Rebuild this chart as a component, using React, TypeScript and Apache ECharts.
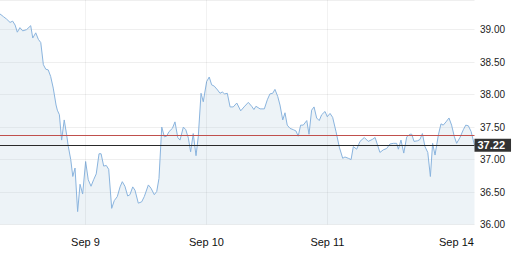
import React, { useEffect, useRef } from "react";
import * as echarts from "echarts";

// time in trading hours since Sep 8 open (6.5 h per session)
const times = [
  1.91, 2.09, 2.27, 2.45, 2.59, 2.72, 2.84, 2.98, 3.13, 3.34, 3.56, 3.67, 3.83, 3.97, 4.1, 4.24, 4.37, 4.5, 4.63, 4.77,
  4.92, 4.99, 5.1, 5.22, 5.36, 5.49, 5.58, 5.71, 5.82, 5.94, 6.08, 6.21, 6.35, 6.51, 6.65, 6.8, 6.94, 7.08, 7.23, 7.34,
  7.48, 7.62, 7.75, 7.91, 8.05, 8.21, 8.36, 8.48, 8.62, 8.77, 8.89, 9.04, 9.16, 9.34, 9.52, 9.66, 9.88, 10.02, 10.2, 10.33,
  10.45, 10.6, 10.74, 10.86, 10.99, 11.17, 11.31, 11.46, 11.58, 11.76, 11.89, 12.03, 12.15, 12.29, 12.44, 12.56, 12.71, 12.83, 13.01, 13.15,
  13.28, 13.42, 13.6, 13.73, 13.85, 13.98, 14.12, 14.27, 14.44, 14.63, 14.84, 15.02, 15.25, 15.43, 15.55, 15.66, 15.88, 16.11, 16.27, 16.41,
  16.56, 16.68, 16.83, 16.95, 17.1, 17.22, 17.34, 17.49, 17.67, 17.81, 17.93, 18.06, 18.2, 18.39, 18.51, 18.65, 18.78, 18.92, 19.06, 19.19,
  19.37, 19.49, 19.64, 19.78, 19.96, 20.14, 20.32, 20.44, 20.62, 20.77, 20.89, 21.07, 21.25, 21.48, 21.69, 21.91, 22.06, 22.32, 22.5, 22.68,
  22.86, 23.04, 23.22, 23.31, 23.45, 23.6, 23.76, 23.94, 24.03, 24.15, 24.35, 24.47, 24.6, 24.74, 24.89, 25.03, 25.15, 25.28, 25.46, 25.6,
  25.72, 25.87, 26.03, 26.17, 26.31, 26.44, 26.62, 26.8, 26.93, 27.07, 27.22, 27.4,
];

const prices = [
  39.24, 39.2, 39.16, 39.11, 39.13, 39.07, 38.96, 39.03, 38.98, 39.0, 39.06, 38.87, 38.95, 38.85, 38.8, 38.46, 38.39, 38.38, 38.28, 38.1,
  37.84, 37.76, 37.69, 37.3, 37.61, 37.38, 37.2, 37.0, 36.74, 36.87, 36.2, 36.62, 36.47, 36.97, 36.69, 36.59, 36.69, 36.78, 37.09, 37.09,
  36.9, 36.91, 36.85, 36.25, 36.37, 36.43, 36.58, 36.66, 36.59, 36.44, 36.46, 36.58, 36.53, 36.33, 36.35, 36.43, 36.61, 36.56, 36.46, 36.51,
  36.71, 37.5, 37.35, 37.36, 37.43, 37.48, 37.58, 37.34, 37.3, 37.5, 37.46, 37.33, 37.12, 37.4, 37.06, 37.35, 38.02, 37.89, 38.2, 38.27,
  38.15, 38.13, 38.07, 38.02, 38.04, 38.01, 38.02, 37.81, 37.81, 37.87, 37.75, 37.81, 37.88, 37.82, 37.77, 37.82, 37.78, 37.78, 37.92, 38.01,
  38.02, 38.08, 37.97, 37.84, 37.61, 37.72, 37.53, 37.48, 37.46, 37.44, 37.36, 37.53, 37.53, 37.6, 37.39, 37.76, 37.81, 37.64, 37.6, 37.69,
  37.74, 37.66, 37.71, 37.65, 37.43, 37.19, 37.02, 37.04, 37.02, 37.0, 37.2, 37.16, 37.28, 37.34, 37.28, 37.31, 37.34, 37.11, 37.15, 37.17,
  37.24, 37.25, 37.25, 37.16, 37.3, 37.1, 37.35, 37.39, 37.39, 37.28, 37.29, 37.31, 37.4, 37.2, 37.11, 36.74, 37.25, 37.07, 37.38, 37.55,
  37.53, 37.58, 37.64, 37.53, 37.36, 37.25, 37.34, 37.46, 37.53, 37.52, 37.43, 37.22,
];

const dayStarts = [6.5, 13, 19.5, 26];
const dayLabels = ["Sep 9", "Sep 10", "Sep 11", "Sep 14"];
const yTicks = [36, 36.5, 37, 37.5, 38, 38.5, 39];
const prevClose = 37.38;
const lastPrice = 37.22;

const FONT = "'Liberation Sans', Arial, Helvetica, sans-serif";

export default function App() {
  const ref = useRef<HTMLDivElement>(null);

  useEffect(() => {
    if (!ref.current) return;
    const chart = echarts.init(ref.current, undefined, { renderer: "svg" });
    const data = times.map((t, i) => [t, prices[i]]);
    chart.setOption({
      animation: false,
      grid: { left: 0, right: 37.5, top: 0, bottom: 30.4, containLabel: false },
      xAxis: {
        type: "value",
        min: times[0],
        max: times[times.length - 1],
        axisLine: { show: false },
        axisTick: { show: false },
        splitLine: { show: false },
        axisLabel: {
          customValues: dayStarts,
          margin: 12,
          fontSize: 11,
          color: "#111",
          fontFamily: FONT,
          formatter: (v: number) => {
            const i = dayStarts.findIndex((d) => Math.abs(d - v) < 1e-6);
            if (i < 0) return "";
            return i === dayStarts.length - 1 ? "{r|" + dayLabels[i] + "}" : dayLabels[i];
          },
          rich: {
            r: { padding: [0, 0, 0, 16], fontSize: 11, color: "#111", fontFamily: FONT },
          },
        },
      },
      yAxis: {
        type: "value",
        position: "right",
        min: 36,
        max: 39.455,
        interval: 0.5,
        axisLine: { show: false },
        axisTick: { show: false },
        axisLabel: {
          margin: 5.5,
          fontSize: 10,
          color: "#222",
          fontFamily: FONT,
          formatter: (v: number) =>
            yTicks.some((t) => Math.abs(t - v) < 1e-6) ? v.toFixed(2) : "",
        },
        splitLine: { show: true, lineStyle: { color: "#efefef", width: 1 } },
      },
      series: [
        {
          type: "line",
          data,
          showSymbol: false,
          symbol: "none",
          lineStyle: { color: "#8ab4de", width: 1 },
          areaStyle: { color: "rgba(181,204,221,0.35)", origin: "start" },
          markLine: {
            silent: true,
            symbol: "none",
            animation: false,
            data: [
              ...dayStarts.slice(0, 3).map((d) => ({
                xAxis: d,
                lineStyle: { color: "rgba(0,0,0,0.05)", width: 1, type: "solid" },
                label: { show: false },
              })),
              {
                yAxis: prevClose,
                lineStyle: { color: "#c0504d", width: 1, type: "solid" },
                label: { show: false },
              },
              {
                yAxis: lastPrice,
                lineStyle: { color: "#2a2a2a", width: 1, type: "solid" },
                label: {
                  show: true,
                  position: "end",
                  distance: 0,
                  formatter: lastPrice.toFixed(2),
                  backgroundColor: "#333",
                  color: "#fff",
                  fontWeight: "bold",
                  fontSize: 11,
                  fontFamily: FONT,
                  padding: [1, 6, 1, 3],
                },
              },
            ],
          },
        },
      ],
    });
    return () => chart.dispose();
  }, []);

  return (
    <div
      ref={ref}
      style={{ position: "fixed", left: 0, top: 0, width: 512, height: 255, background: "#fff" }}
    />
  );
}
